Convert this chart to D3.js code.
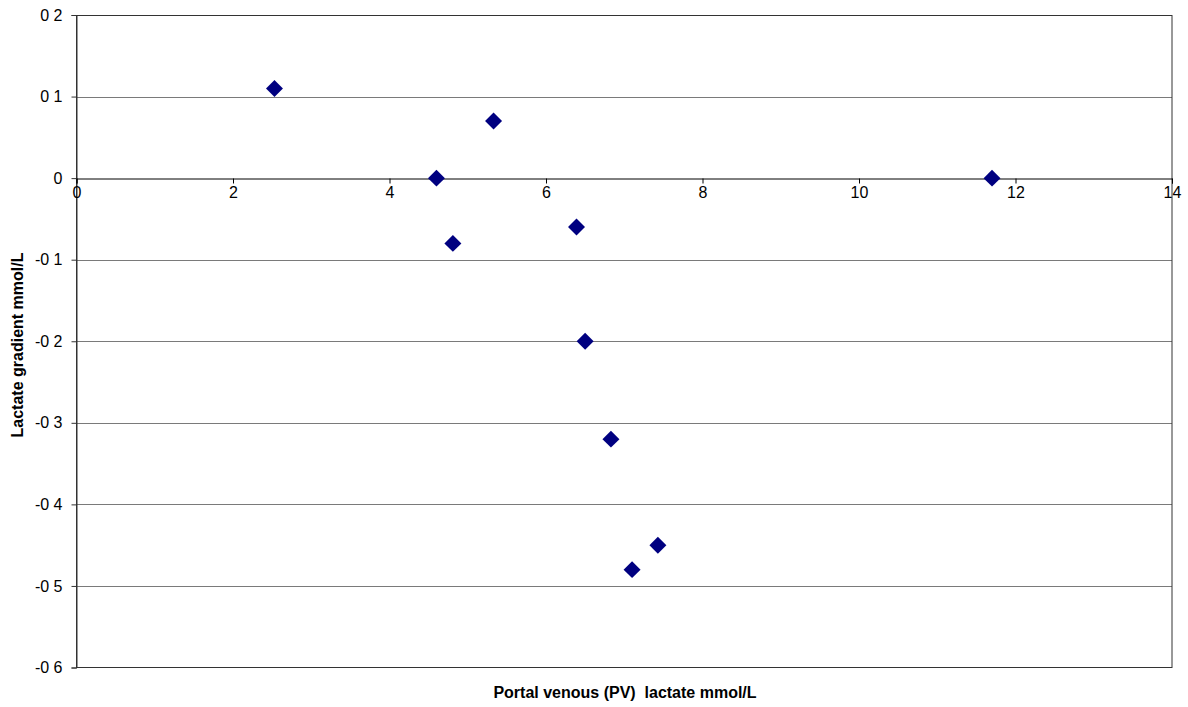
<!DOCTYPE html>
<html><head><meta charset="utf-8">
<script src="https://cdn.jsdelivr.net/npm/d3@7"></script>
<style>body{margin:0;background:#fff}svg{display:block}text{font-family:"Liberation Sans",Arial,sans-serif;white-space:pre}</style>
</head><body><svg id="c" width="1188" height="707"></svg>
<script>
const pvLactate = [2.53, 4.6, 4.81, 5.33, 6.39, 6.5, 6.83, 7.1, 7.43, 11.7];
const gradient = [0.11, 0, -0.08, 0.07, -0.06, -0.2, -0.32, -0.48, -0.45, 0];
const xTicks = [0, 2, 4, 6, 8, 10, 12, 14];
const yTicks = [0.2, 0.1, 0, -0.1, -0.2, -0.3, -0.4, -0.5, -0.6];
const yTickLabels = ["0 2", "0 1", "0", "-0 1", "-0 2", "-0 3", "-0 4", "-0 5", "-0 6"];
const xTitle = "Portal venous (PV)  lactate mmol/L";
const yTitle = "Lactate gradient mmol/L";

const svg = d3.select("#c");
const L = 76.5, R = 1172, T = 15, B = 667.5;
const x = d3.scaleLinear().domain([0, 14]).range([L, R]);
const y = d3.scaleLinear().domain([-0.6, 0.2]).range([B, T]);

// gridlines
svg.append("g").selectAll("line").data(yTicks.filter(d => d !== 0 && d !== -0.6)).join("line")
  .attr("x1", L).attr("x2", R).attr("y1", d => Math.round(y(d)) + 0.5).attr("y2", d => Math.round(y(d)) + 0.5)
  .attr("stroke", "#7a7a7a").attr("stroke-width", 1);

// plot border
svg.append("rect").attr("x", L).attr("y", T + 0.5).attr("width", R - L).attr("height", B - T - 0.5)
  .attr("fill", "none").attr("stroke", "#333").attr("stroke-width", 1);

// y axis
const yAxis = d3.axisLeft(y).tickValues(yTicks).tickSize(5).tickPadding(9)
  .tickFormat((d, i) => yTickLabels[i]);
const gy = svg.append("g").attr("transform", `translate(${L},0)`).call(yAxis);
gy.select(".domain").attr("stroke", "#333");
gy.selectAll(".tick line").attr("stroke", "#333");
gy.selectAll("text").attr("font-size", 16).attr("fill", "#000").attr("font-family", "Liberation Sans, Arial, sans-serif");

// x axis at y=0
const xAxis = d3.axisBottom(x).tickValues(xTicks).tickSize(5).tickPadding(3).tickFormat(d3.format("d"));
const gx = svg.append("g").attr("transform", `translate(0,${Math.round(y(0)) + 0.5})`).call(xAxis);
gx.select(".domain").attr("stroke", "#000");
gx.selectAll(".tick line").attr("stroke", "#000");
gx.selectAll("text").attr("font-size", 16).attr("fill", "#000").attr("font-family", "Liberation Sans, Arial, sans-serif");

// points
const sym = d3.symbol().type(d3.symbolSquare).size(144);
svg.append("g").selectAll("path").data(pvLactate.map((v, i) => [v, gradient[i]])).join("path")
  .attr("d", sym)
  .attr("transform", d => `translate(${x(d[0])},${y(d[1])}) rotate(45)`)
  .attr("fill", "#000080");

// titles
svg.append("text").attr("x", 625).attr("y", 698).attr("text-anchor", "middle")
  .attr("font-size", 16).attr("font-weight", "bold").attr("xml:space", "preserve").text(xTitle);
svg.append("text").attr("transform", `translate(23,345) rotate(-90)`).attr("text-anchor", "middle")
  .attr("font-size", 16).attr("font-weight", "bold").text(yTitle);
</script></body></html>
